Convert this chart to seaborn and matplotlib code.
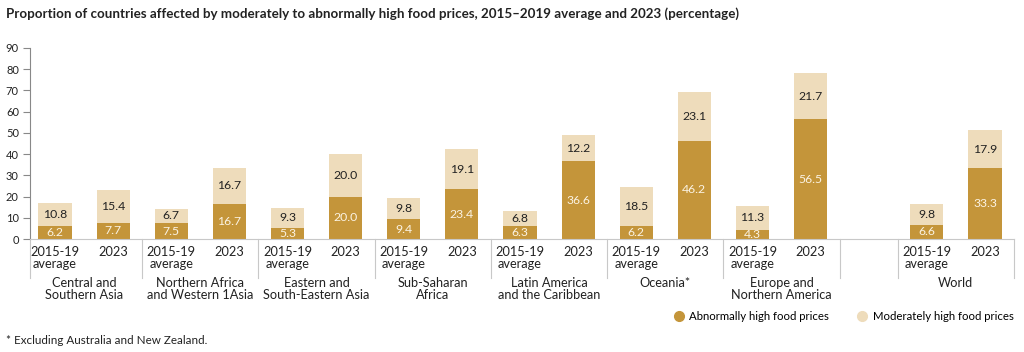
import matplotlib
matplotlib.use("Agg")
import matplotlib.pyplot as plt
from matplotlib.lines import Line2D
import numpy as np
import pandas as pd
import seaborn as sns

# ---- data ----
REGIONS = [
    "Central and\nSouthern Asia",
    "Northern Africa\nand Western 1Asia",
    "Eastern and\nSouth-Eastern Asia",
    "Sub-Saharan\nAfrica",
    "Latin America\nand the Caribbean",
    "Oceania*",
    "Europe and\nNorthern America",
    "World",
]
PERIODS = ["2015-19\naverage", "2023"]
ABNORMAL_BASE = [6.2, 7.5, 5.3, 9.4, 6.3, 6.2, 4.3, 6.6]
MODERATE_BASE = [10.8, 6.7, 9.3, 9.8, 6.8, 18.5, 11.3, 9.8]
ABNORMAL_2023 = [7.7, 16.7, 20.0, 23.4, 36.6, 46.2, 56.5, 33.3]
MODERATE_2023 = [15.4, 16.7, 20.0, 19.1, 12.2, 23.1, 21.7, 17.9]

DARK = "#C4953A"
LIGHT = "#EEDCBB"
GRID = "#C8C8C8"
TEXT = "#222222"

# slot layout: two bars per region, one empty slot before World
rows = []
for i, reg in enumerate(REGIONS):
    base = 2 * i + (1 if reg == "World" else 0)
    for j, per in enumerate(PERIODS):
        ab = ABNORMAL_BASE[i] if j == 0 else ABNORMAL_2023[i]
        mo = MODERATE_BASE[i] if j == 0 else MODERATE_2023[i]
        rows.append({"region": reg, "period": per, "pos": base + j,
                     "abnormal": ab, "moderate": mo, "total": ab + mo})
df = pd.DataFrame(rows)

plt.rcParams["font.family"] = ["Lato", "DejaVu Sans"]
fig = plt.figure(figsize=(10.24, 3.52), dpi=100)
ax = fig.add_axes([30 / 1024, 1 - 239 / 352, (1014 - 30) / 1024, (239 - 48) / 352])

sns.barplot(data=df, x="pos", y="total", native_scale=True, color=LIGHT,
            width=0.57, saturation=1, linewidth=0, ax=ax)
sns.barplot(data=df, x="pos", y="abnormal", native_scale=True, color=DARK,
            width=0.57, saturation=1, linewidth=0, ax=ax)

for _, r in df.iterrows():
    ax.text(r["pos"], r["abnormal"] / 2, f"{r['abnormal']:.1f}", ha="center", va="center",
            fontsize=8.8, color="#FBF3E3")
    ax.text(r["pos"], r["abnormal"] + r["moderate"] / 2, f"{r['moderate']:.1f}",
            ha="center", va="center", fontsize=8.8, color=TEXT)

x0 = -0.43
ax.set_xlim(x0, df["pos"].max() + 0.5)
ax.set_ylim(0, 90)
ax.set_yticks(np.arange(0, 91, 10))
ax.tick_params(axis="y", length=5, width=0.8, color="#888888", labelsize=8, labelcolor=TEXT, pad=3)
ax.set_xticks(df["pos"])
ax.set_xticklabels(df["period"], fontsize=9.2, color=TEXT, linespacing=1.0)
ax.tick_params(axis="x", length=0, pad=5)
ax.set_xlabel("")
ax.set_ylabel("")
for s in ["top", "right"]:
    ax.spines[s].set_visible(False)
ax.spines["left"].set_color("#888888")
ax.spines["left"].set_linewidth(0.8)
ax.spines["bottom"].set_color(GRID)
ax.spines["bottom"].set_linewidth(0.8)

# group separators and region labels under the axis
trans = ax.get_xaxis_transform()
seps = sorted(set([max(p - 0.5, x0) for p in df["pos"][::2]] + [p + 0.5 for p in df["pos"][1::2]]))
for s in seps:
    ax.plot([s, s], [0, -0.205], transform=trans, color=GRID, lw=0.8, clip_on=False)
for reg, g in df.groupby("region", sort=False):
    ax.text(g["pos"].mean(), -0.2, reg, transform=trans, ha="center", va="top",
            fontsize=9.2, color=TEXT, linespacing=1.0)

fig.text(6 / 1024, 1 - 14 / 352, "Proportion of countries affected by moderately to abnormally high "
         "food prices, 2015\u20132019 average and 2023 (percentage)",
         fontsize=9.6, fontweight="bold", color=TEXT, va="center", ha="left")
fig.text(6 / 1024, 1 - 340 / 352, "* Excluding Australia and New Zealand.",
         fontsize=8.4, color=TEXT, va="center", ha="left")

handles = [Line2D([], [], marker="o", ls="", markersize=7, color=DARK, label="Abnormally high food prices"),
           Line2D([], [], marker="o", ls="", markersize=7, color=LIGHT, label="Moderately high food prices")]
fig.legend(handles=handles, loc="center right", bbox_to_anchor=(1018 / 1024, 1 - 316 / 352),
           ncol=2, frameon=False, fontsize=8.2, handletextpad=0.4, columnspacing=2.4,
           handlelength=1.0, borderaxespad=0)

fig.savefig("out.png", dpi=100)
